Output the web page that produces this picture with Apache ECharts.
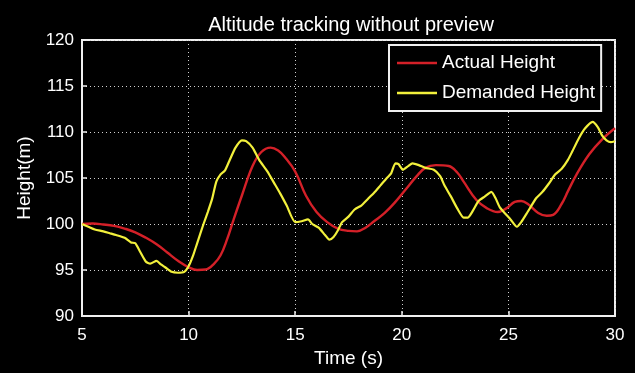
<!DOCTYPE html>
<html>
<head>
<meta charset="utf-8">
<script src="https://cdn.jsdelivr.net/npm/echarts@6/dist/echarts.min.js"></script>
<style>
html,body{margin:0;padding:0;background:#000;}
#chart{width:635px;height:373px;}
</style>
</head>
<body>
<div id="chart"></div>
<script>
var titleText = 'Altitude tracking without preview';
var xTicks = [5, 10, 15, 20, 25, 30];
var yTicks = [90, 95, 100, 105, 110, 115, 120];
var actualT = [5,5.5,6,6.5,7,7.5,8,8.5,9,9.5,10,10.4,10.8,11.2,11.5,11.8,12.1,12.5,13,13.4,13.85,14.2,14.5,15,15.5,16,16.5,17,17.5,17.9,18.3,18.7,19.2,19.7,20.2,20.7,21.1,21.6,22.2,22.6,22.9,23.5,24,24.5,24.9,25.3,25.6,25.9,26.4,26.8,27.1,27.5,27.8,28.2,28.8,29.4,30];
var actualH = [100,100.05,99.95,99.8,99.5,99.1,98.5,97.8,96.9,96.0,95.3,95.0,95.05,95.7,96.6,98.3,100.4,103.1,106.3,107.8,108.3,108.0,107.3,105.7,103.1,101.3,100.2,99.5,99.25,99.2,99.6,100.3,101.2,102.4,103.8,105.2,106.1,106.4,106.3,105.6,104.6,102.6,101.7,101.3,101.7,102.4,102.5,102.2,101.2,100.9,101.0,102.2,103.6,105.4,107.6,109.2,110.4];
var demandT = [5,5.3,5.6,6,6.3,6.6,7,7.3,7.5,7.7,8.0,8.2,8.5,8.7,8.9,9.2,9.5,9.8,10,10.2,10.4,10.7,10.9,11.1,11.3,11.5,11.7,11.9,12.2,12.5,12.7,13.0,13.3,13.7,14.0,14.3,14.6,15.0,15.3,15.6,15.8,16.1,16.4,16.6,16.8,17.0,17.2,17.5,17.8,18.1,18.4,18.7,19.0,19.3,19.5,19.7,19.85,20.05,20.3,20.5,20.8,21.1,21.5,21.8,22.0,22.3,22.6,22.9,23.1,23.35,23.6,23.9,24.2,24.4,24.6,24.9,25.1,25.4,25.6,25.9,26.3,26.6,26.9,27.2,27.5,27.8,28.0,28.3,28.6,28.95,29.2,29.4,29.6,29.8,30];
var demandH = [100,99.7,99.4,99.2,99.0,98.8,98.5,98.0,97.9,97.1,95.9,95.7,96.0,95.6,95.3,94.8,94.7,94.8,95.4,96.5,97.9,100.0,101.3,102.7,104.6,105.4,105.8,106.8,108.3,109.1,109.0,108.3,107.0,105.7,104.5,103.3,102.0,100.2,100.3,100.5,100.0,99.6,98.8,98.3,98.6,99.3,100.2,100.8,101.6,102.0,102.7,103.4,104.2,105.0,105.5,106.6,106.5,105.9,106.3,106.6,106.4,106.1,105.9,105.2,104.2,103.0,101.7,100.7,100.7,101.5,102.5,103.0,103.5,102.8,101.8,101.0,100.5,99.7,100.2,101.3,102.8,103.5,104.4,105.4,106.0,107.0,107.9,109.3,110.4,111.1,110.5,109.6,109.1,108.9,109.0];

function pairs(t, h) { return t.map(function (v, i) { return [v, h[i]]; }); }

var FONT = 'Liberation Sans, Arial, sans-serif';
var chart = echarts.init(document.getElementById('chart'), null, {renderer: 'canvas'});
chart.setOption({
  backgroundColor: '#000',
  animation: false,
  title: {
    text: titleText, left: 346, top: 10, textAlign: 'center',
    textStyle: {color: '#fff', fontSize: 20, fontWeight: 'normal', fontFamily: FONT}
  },
  grid: {left: 82, right: 20, top: 40, bottom: 52, show: true, borderColor: '#f0f0f0', borderWidth: 2, backgroundColor: 'transparent'},
  legend: {
    orient: 'vertical', left: 389, top: 45,
    padding: [7, 6, 7, 8], itemGap: 8,
    borderColor: '#f0f0f0', borderWidth: 2, backgroundColor: '#000',
    icon: 'rect', itemWidth: 40, itemHeight: 2.5,
    textStyle: {color: '#fff', fontSize: 19, fontFamily: FONT, lineHeight: 22},
    data: ['Actual Height', 'Demanded Height']
  },
  xAxis: {
    type: 'value', min: xTicks[0], max: xTicks[xTicks.length - 1], interval: 5,
    name: 'Time (s)', nameLocation: 'middle', nameGap: 33,
    nameTextStyle: {color: '#fff', fontSize: 19, fontFamily: FONT},
    axisLine: {show: true, lineStyle: {color: '#f0f0f0', width: 2}},
    axisTick: {show: true, inside: true, length: 5, lineStyle: {color: '#f0f0f0', width: 1.5}},
    axisLabel: {color: '#fff', fontSize: 17, fontFamily: FONT, margin: 11},
    splitLine: {show: true, lineStyle: {color: '#d0d0d0', type: [1, 3], width: 1}}
  },
  yAxis: {
    type: 'value', min: yTicks[0], max: yTicks[yTicks.length - 1], interval: 5,
    name: 'Height(m)', nameLocation: 'middle', nameGap: 42,
    nameTextStyle: {color: '#fff', fontSize: 19, fontFamily: FONT},
    axisLine: {show: true, lineStyle: {color: '#f0f0f0', width: 2}},
    axisTick: {show: true, inside: true, length: 5, lineStyle: {color: '#f0f0f0', width: 1.5}},
    axisLabel: {color: '#fff', fontSize: 17, fontFamily: FONT, margin: 8},
    splitLine: {show: true, lineStyle: {color: '#d0d0d0', type: [1, 3], width: 1}}
  },
  series: [
    {
      name: 'Actual Height', type: 'line', data: pairs(actualT, actualH),
      showSymbol: false, symbol: 'none', smooth: 0.4, z: 2,
      lineStyle: {color: '#d42028', width: 2.4}, itemStyle: {color: '#d42028'}
    },
    {
      name: 'Demanded Height', type: 'line', data: pairs(demandT, demandH),
      showSymbol: false, symbol: 'none', smooth: 0.2, z: 3,
      lineStyle: {color: '#f2f03c', width: 2.2}, itemStyle: {color: '#f2f03c'}
    }
  ]
});
</script>
</body>
</html>
